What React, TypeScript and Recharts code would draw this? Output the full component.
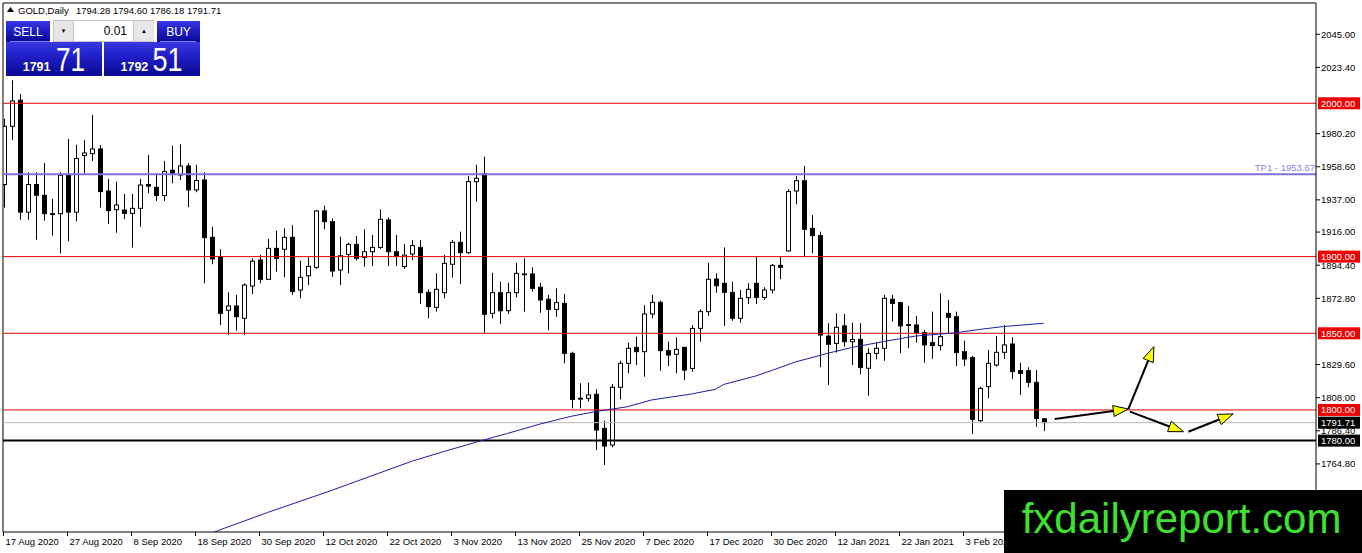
import React from 'react';
import { ComposedChart, Bar, Line, XAxis, YAxis, ReferenceLine } from 'recharts';

const FONT = '"Liberation Sans", Arial, "DejaVu Sans", sans-serif';

// ---- candles (daily GOLD, 17 Aug 2020 -> 17 Feb 2021), index = bar number ----
const opens = [
  1947, 1985, 2002, 1929, 1947, 1940, 1928, 1928, 1953.5, 1929,
  1966, 1967.2, 1970.2, 1942.8, 1930.6, 1930.4, 1928.2, 1931.5, 1947, 1945.2,
  1939.8, 1956.3, 1953.2, 1959.1, 1943.5, 1950, 1912.6, 1900, 1865, 1867.8,
  1859.8, 1880.8, 1897.8, 1885.2, 1905.4, 1904.8, 1912.6, 1878.2, 1887.5, 1893,
  1929.8, 1922.8, 1891.3, 1901.5, 1908, 1899.5, 1903.2, 1906, 1923.9, 1903.2,
  1893.5, 1901.7, 1906, 1876.7, 1866.9, 1876.5, 1895, 1909.3, 1902.6, 1948.9,
  1953.9, 1863, 1876.5, 1864.7, 1876.5, 1888.7, 1888.7, 1880, 1872.2, 1865.6,
  1869.5, 1836.9, 1807.6, 1807.6, 1810.2, 1788, 1777.1, 1814.8, 1830.4, 1840.8,
  1838, 1862.6, 1870.2, 1838.7, 1836.3, 1840.8, 1827.1, 1853.2, 1864.1, 1885.4,
  1882.6, 1876.7, 1859.8, 1873.2, 1882.6, 1873.4, 1878.2, 1894.3, 1903.7, 1942.8,
  1949.5, 1918.4, 1913.7, 1848.2, 1843.4, 1854.8, 1844.5, 1846, 1827.2, 1836.9,
  1840.2, 1872.2, 1870, 1855.6, 1855.4, 1850.4, 1843.9, 1842, 1863, 1860.8,
  1838, 1834.1, 1793, 1815.2, 1829.3, 1837.6, 1843, 1825.6, 1825.6, 1818, 1794.28,
];
const highs = [
  1990, 2015, 2006, 1955, 1955, 1961, 1937.6, 1955, 1976.7, 1973,
  1976, 1992.4, 1972.8, 1950.6, 1948.9, 1940.9, 1940.9, 1950.6, 1966.3, 1953.7,
  1962.4, 1972.4, 1973.2, 1960.9, 1959.8, 1955, 1919.5, 1904.8, 1876.7, 1875,
  1882.6, 1898.9, 1901.1, 1911.5, 1917, 1918.5, 1920.6, 1897.4, 1899.5, 1930.4,
  1933.2, 1925, 1913, 1909.1, 1913.4, 1917.8, 1914.1, 1930.8, 1925.6, 1914.1,
  1908.2, 1910.8, 1910.8, 1878.7, 1889.1, 1901.1, 1910.8, 1916.3, 1952.6, 1959.8,
  1965.2, 1889.5, 1883.7, 1883, 1896, 1898.9, 1893, 1883, 1875, 1879.3,
  1875.6, 1838, 1817.4, 1817.8, 1813.5, 1793, 1817, 1832.1, 1843.9, 1847.8,
  1868.4, 1875, 1871.3, 1844.5, 1847.4, 1841.3, 1855.4, 1865.6, 1896, 1889.1,
  1906, 1883.7, 1878.2, 1882.6, 1900, 1880, 1895.2, 1900, 1943.9, 1952.6,
  1959.1, 1927.1, 1916.3, 1856.5, 1863, 1862.6, 1857, 1856.5, 1840.2, 1843.9,
  1875, 1875, 1870.6, 1867.8, 1861.3, 1852.1, 1864.1, 1876, 1871.7, 1864.1,
  1845.2, 1835.2, 1815.2, 1839.1, 1848.2, 1855.4, 1847.4, 1830.8, 1827.8, 1826, 1794.6,
];
const lows = [
  1932, 1976, 1924, 1924, 1911, 1923.5, 1913.7, 1902, 1910, 1923,
  1954.3, 1962.4, 1932, 1921.3, 1915.6, 1924.5, 1905.9, 1919.5, 1941.3, 1936.3,
  1936.3, 1947.8, 1950, 1932.2, 1942, 1882.6, 1895, 1855.4, 1848.9, 1851.7,
  1848.9, 1875.6, 1882.6, 1884.8, 1890.2, 1886.5, 1875, 1872.8, 1881.5, 1892,
  1917.8, 1886.9, 1881.5, 1889.1, 1897.4, 1893.5, 1893.9, 1905, 1893.9, 1893.9,
  1892, 1897.8, 1869.1, 1859.8, 1864.1, 1872.8, 1886.3, 1882.1, 1901.7, 1935.8,
  1850.4, 1859.8, 1856.1, 1862.6, 1873.4, 1864.1, 1877.2, 1863.4, 1852, 1860.8,
  1830.4, 1801, 1801, 1805.4, 1773.9, 1764.1, 1775.6, 1806.9, 1823.9, 1829.3,
  1821.7, 1859.8, 1825.6, 1828.7, 1823.9, 1819.5, 1825, 1844.5, 1861.3, 1876.5,
  1854.8, 1858.2, 1856.9, 1869.1, 1869.1, 1871.7, 1876, 1885.2, 1903.2, 1934.1,
  1900, 1902.2, 1827.8, 1816.3, 1837.4, 1841.3, 1829.3, 1823.2, 1809.3, 1833,
  1832.1, 1857.6, 1837, 1840.2, 1843.9, 1830.8, 1833.2, 1838.7, 1850, 1828.7,
  1828.7, 1784.3, 1791.7, 1807.6, 1828.2, 1833.2, 1820.2, 1809.8, 1814.8, 1789.1, 1786.18,
];
const closes = [
  1985, 2001.5, 1929, 1947, 1940, 1928, 1927.5, 1953, 1929, 1964,
  1967.6, 1970.2, 1942.4, 1930, 1933.7, 1928.2, 1931.5, 1946.7, 1946, 1939.8,
  1955.4, 1954.3, 1959.1, 1943.5, 1949.6, 1912.4, 1898.5, 1863, 1867.8, 1860.8,
  1881.5, 1897, 1885.2, 1905.4, 1898.9, 1912.6, 1877.2, 1886.5, 1893.6, 1929.8,
  1922.8, 1890.6, 1900.6, 1908, 1898.9, 1903.2, 1906, 1924.3, 1903.2, 1900.4,
  1901, 1907.2, 1876.5, 1867.4, 1878.7, 1895.6, 1909.3, 1902.6, 1948.9, 1951.1,
  1862.4, 1876.5, 1864.7, 1876.5, 1889.1, 1888.5, 1879.3, 1871.7, 1865.6, 1870,
  1836.9, 1806.9, 1807.4, 1809.8, 1786.9, 1776.5, 1814.8, 1830.4, 1840.2, 1838,
  1862.6, 1870.2, 1838.7, 1835.8, 1839.5, 1826, 1853.2, 1864.1, 1885.2, 1881,
  1876.7, 1859.8, 1872.8, 1878.7, 1873.4, 1878.2, 1894.3, 1893, 1942.4, 1949.5,
  1917.8, 1913.7, 1848.9, 1842.8, 1853.9, 1844.5, 1846, 1827.8, 1836.9, 1840.2,
  1872.8, 1869.5, 1854.8, 1855.4, 1850.4, 1842.4, 1842, 1847.8, 1860.4, 1837.4,
  1833.2, 1793.9, 1814.1, 1830.4, 1837.6, 1842.4, 1825, 1823.9, 1818, 1794.5, 1791.71,
];

// ---- moving average at these bars ----
const maBars = [25, 27, 33, 41, 51, 55, 60, 63, 67, 71, 74, 78, 81, 86, 89, 90, 94, 96, 99, 103, 106, 110, 114, 119, 122, 125, 130];
const maValues = [1717.5, 1721.7, 1733.1, 1747.5, 1766.5, 1772.8, 1780.4, 1784.7, 1790.7, 1795.9, 1798.9, 1802.1, 1806.5, 1810.4, 1813.5, 1816.6, 1822.1, 1825.7, 1831.3, 1836.9, 1840.7, 1844.6, 1848.2, 1850.3, 1852.5, 1854.4, 1856.5];

// ---- axes ----
const tickBars = [0, 8, 16, 24, 32, 40, 48, 56, 64, 72, 80, 88, 96, 104, 112, 120];
const tickLabels = ['17 Aug 2020', '27 Aug 2020', '8 Sep 2020', '18 Sep 2020', '30 Sep 2020', '12 Oct 2020', '22 Oct 2020', '3 Nov 2020', '13 Nov 2020', '25 Nov 2020', '7 Dec 2020', '17 Dec 2020', '30 Dec 2020', '12 Jan 2021', '22 Jan 2021', '3 Feb 2021'];
const yTicks = [2045, 2023.4, 1980.2, 1958.6, 1937, 1916, 1894.4, 1872.8, 1829.6, 1808, 1786.4, 1764.8];

// ---- levels ----
const redLevels = [2000, 1900, 1850, 1800];
const tpLevel = 1953.67;
const bidLevel = 1791.71;
const askLevel = 1792.51;
const supportLevel = 1780;

// ---- drawn arrows: [fromBar, fromPrice, toBar, toPrice] ----
const arrowFrom = [[131.4, 1794.1], [140.6, 1800.6], [140.8, 1798.9], [148.1, 1785.8]];
const arrowTo = [[140.6, 1800.6], [143.8, 1841.3], [147.5, 1785.8], [153.7, 1797.4]];

const X_MIN = -0.06;
const X_MAX = 164.06;
const Y_MIN = 1720.4;
const Y_MAX = 2065.4;

const rows: any[] = opens.map((o, i) => ({
  i,
  o,
  h: highs[i],
  l: lows[i],
  c: closes[i],
  range: [lows[i], highs[i]],
  ma: null as number | null,
}));
maBars.forEach((b, k) => {
  rows[b].ma = maValues[k];
});

const Candle = (props: any) => {
  const { x, y, width, height, payload } = props;
  if (x == null || y == null || !payload) return null;
  const top = Math.min(y, y + height);
  const bottom = Math.max(y, y + height);
  const { o, h, l, c } = payload;
  const k = (bottom - top) / (h - l);
  const py = (p: number) => top + (h - p) * k;
  const cx = Math.round(x + width / 2) + 0.5;
  const yo = py(o);
  const yc = py(c);
  const bt = Math.min(yo, yc);
  const bb = Math.max(yo, yc);
  const up = c > o;
  return (
    <g>
      <line x1={cx} x2={cx} y1={top} y2={bottom} stroke="#000" strokeWidth={1} />
      <rect x={cx - 2} y={bt} width={4} height={Math.max(bb - bt, 0.8)} fill={up ? '#fff' : '#000'} stroke="#000" strokeWidth={1} />
    </g>
  );
};

const DateTick = (props: any) => {
  const { x, y, payload } = props;
  const idx = tickBars.indexOf(payload.value);
  return (
    <text x={x + 2} y={y} dy={7} textAnchor="start" fontSize={9.5} fontFamily={FONT} fill="#000">
      {tickLabels[idx]}
    </text>
  );
};

const PriceTick = (props: any) => {
  const { x, y, payload } = props;
  return (
    <text x={x} y={y} dy={3.4} textAnchor="start" fontSize={9.5} fontFamily={FONT} fill="#000">
      {Number(payload.value).toFixed(2)}
    </text>
  );
};

const AxisBox = (props: any) => {
  const { viewBox, text, bg } = props;
  if (!viewBox) return null;
  const bx = viewBox.x + viewBox.width + 2;
  const cy = viewBox.y;
  return (
    <g>
      <rect x={bx} y={cy - 6} width={42} height={12} fill={bg} />
      <text x={bx + 3} y={cy} dy={3.4} fontSize={9.5} fontFamily={FONT} fill="#fff">
        {text}
      </text>
    </g>
  );
};

const TpLabel = (props: any) => {
  const { viewBox, text } = props;
  if (!viewBox) return null;
  return (
    <text x={viewBox.x + viewBox.width - 1} y={viewBox.y - 3} textAnchor="end" fontSize={9.5} fontFamily={FONT} fill="#8a82e4">
      {text}
    </text>
  );
};

const ArrowShape = (props: any) => {
  const { x1, y1, x2, y2 } = props;
  if ([x1, y1, x2, y2].some((v) => v == null || isNaN(v))) return null;
  const ang = Math.atan2(y2 - y1, x2 - x1);
  const cs = Math.cos(ang);
  const sn = Math.sin(ang);
  const L = 15;
  const W = 5.5;
  const bx = x2 - L * cs;
  const by = y2 - L * sn;
  const px = -sn * W;
  const py = cs * W;
  const pts = `${x2},${y2} ${bx + px},${by + py} ${bx - px},${by - py}`;
  return (
    <g>
      <line x1={x1} y1={y1} x2={bx} y2={by} stroke="#000" strokeWidth={2} />
      <polygon points={pts} fill="#ffff00" stroke="#000" strokeWidth={1} />
    </g>
  );
};

const blueGrad = 'linear-gradient(to bottom, #3838e4 0%, #1e1ec4 45%, #0a0a94 100%)';

const splitPrice = (p: number) => {
  const s = p.toFixed(2);
  const [a, b] = s.split('.');
  return [a, b];
};

export default function App() {
  const last = opens.length - 1;
  const headerVals = [opens[last], highs[last], lows[last], closes[last]].map((v) => v.toFixed(2)).join(' ');
  const [bidBig, bidSmall] = splitPrice(bidLevel);
  const [askBig, askSmall] = splitPrice(askLevel);

  return (
    <div style={{ position: 'absolute', left: 0, top: 0, width: 1362, height: 553, background: '#fff', overflow: 'hidden' }}>
      <ComposedChart width={1362} height={553} data={rows} margin={{ top: 3, right: 0, bottom: 0, left: 3 }}>
        <XAxis
          dataKey="i"
          type="number"
          domain={[X_MIN, X_MAX]}
          allowDataOverflow
          ticks={tickBars}
          interval={0}
          height={21}
          tickSize={4}
          tickMargin={2}
          axisLine={{ stroke: '#000' }}
          tickLine={{ stroke: '#000' }}
          tick={<DateTick />}
        />
        <YAxis
          orientation="right"
          type="number"
          domain={[Y_MIN, Y_MAX]}
          allowDataOverflow
          ticks={yTicks}
          interval={0}
          width={46}
          tickSize={4}
          tickMargin={1}
          axisLine={{ stroke: '#000' }}
          tickLine={{ stroke: '#000' }}
          tick={<PriceTick />}
        />
        <ReferenceLine x={X_MIN} stroke="#000" ifOverflow="visible" />
        <ReferenceLine y={Y_MAX} stroke="#000" ifOverflow="visible" />
        <ReferenceLine y={tpLevel} stroke="#7b72d8" strokeWidth={2} label={<TpLabel text={`TP1 - ${tpLevel.toFixed(2)}`} />} />
        {redLevels.map((v) => (
          <ReferenceLine key={v} y={v} stroke="#e00000" strokeWidth={1} label={<AxisBox text={v.toFixed(2)} bg="#f00000" />} />
        ))}
        <ReferenceLine y={bidLevel} stroke="#b8b8b8" strokeWidth={1} label={<AxisBox text={bidLevel.toFixed(2)} bg="#000" />} />
        <ReferenceLine y={supportLevel} stroke="#000" strokeWidth={2} label={<AxisBox text={supportLevel.toFixed(2)} bg="#000" />} />
        <Bar dataKey="range" barSize={5} shape={Candle} isAnimationActive={false} />
        <Line dataKey="ma" type="linear" stroke="#1c1ca8" strokeWidth={1} dot={false} activeDot={false} connectNulls isAnimationActive={false} />
        {arrowFrom.map((f, k) => (
          <ReferenceLine
            key={'a' + k}
            segment={[
              { x: f[0], y: f[1] },
              { x: arrowTo[k][0], y: arrowTo[k][1] },
            ]}
            ifOverflow="visible"
            shape={(p: any) => <ArrowShape {...p} />}
          />
        ))}
      </ComposedChart>

      {/* header */}
      <svg style={{ position: 'absolute', left: 0, top: 0 }} width={260} height={19}>
        <polygon points="7,12 10.5,7 14,12" fill="#000" />
        <text x={18} y={14} fontSize={9.5} fontFamily={FONT} fill="#000">GOLD,Daily</text>
        <text x={76} y={14} fontSize={9.5} fontFamily={FONT} fill="#000">{headerVals}</text>
      </svg>

      {/* one-click trading panel */}
      <div style={{ position: 'absolute', left: 6, top: 21, width: 44, height: 21, background: blueGrad, color: '#fff', fontFamily: FONT, fontSize: 12, display: 'flex', alignItems: 'center', justifyContent: 'center' }}>SELL</div>
      <div style={{ position: 'absolute', left: 10, top: 41, width: 40, height: 1, background: '#7a7af0' }} />
      <div style={{ position: 'absolute', left: 157, top: 21, width: 43, height: 21, background: blueGrad, color: '#fff', fontFamily: FONT, fontSize: 12, display: 'flex', alignItems: 'center', justifyContent: 'center' }}>BUY</div>
      <div style={{ position: 'absolute', left: 160, top: 41, width: 36, height: 1, background: '#7a7af0' }} />
      <div style={{ position: 'absolute', left: 53, top: 20, width: 99, height: 20, border: '1px solid #c4c4c4', background: '#fff', fontFamily: FONT }}>
        <div style={{ position: 'absolute', left: 0, top: 0, width: 19, height: 20, background: '#e6e6e6', borderRight: '1px solid #c8c8c8', display: 'flex', alignItems: 'center', justifyContent: 'center', fontSize: 6, color: '#000' }}>▼</div>
        <div style={{ position: 'absolute', left: 20, top: 0, width: 53, height: 20, display: 'flex', alignItems: 'center', justifyContent: 'flex-end', fontSize: 12, color: '#000' }}>0.01</div>
        <div style={{ position: 'absolute', left: 79, top: 0, width: 20, height: 20, background: '#e6e6e6', borderLeft: '1px solid #c8c8c8', display: 'flex', alignItems: 'center', justifyContent: 'center', fontSize: 6, color: '#000' }}>▲</div>
      </div>
      <div style={{ position: 'absolute', left: 6, top: 42, width: 96, height: 34, background: blueGrad }} />
      <div style={{ position: 'absolute', left: 104, top: 42, width: 96, height: 34, background: blueGrad }} />
      <svg style={{ position: 'absolute', left: 6, top: 32, overflow: 'visible' }} width={194} height={48}>
        <text x={16.7} y={39} fontSize={12.5} fontWeight="bold" fontFamily={FONT} fill="#fff">{bidBig}</text>
        <text x={50} y={39} fontSize={33} fontFamily={FONT} fill="#fff" textLength={29} lengthAdjust="spacingAndGlyphs">{bidSmall}</text>
        <text x={114.5} y={39} fontSize={12.5} fontWeight="bold" fontFamily={FONT} fill="#fff">{askBig}</text>
        <text x={146.5} y={39} fontSize={33} fontFamily={FONT} fill="#fff" textLength={30} lengthAdjust="spacingAndGlyphs">{askSmall}</text>
      </svg>

      {/* watermark */}
      <div style={{ position: 'absolute', left: 1004, top: 490, width: 358, height: 63, background: '#000' }}>
        <svg width={358} height={63} style={{ display: 'block' }}>
          <text x={17.7} y={43} fontSize={42} fontFamily={FONT} fill="#3ee032">fxdailyreport.com</text>
        </svg>
      </div>
    </div>
  );
}
